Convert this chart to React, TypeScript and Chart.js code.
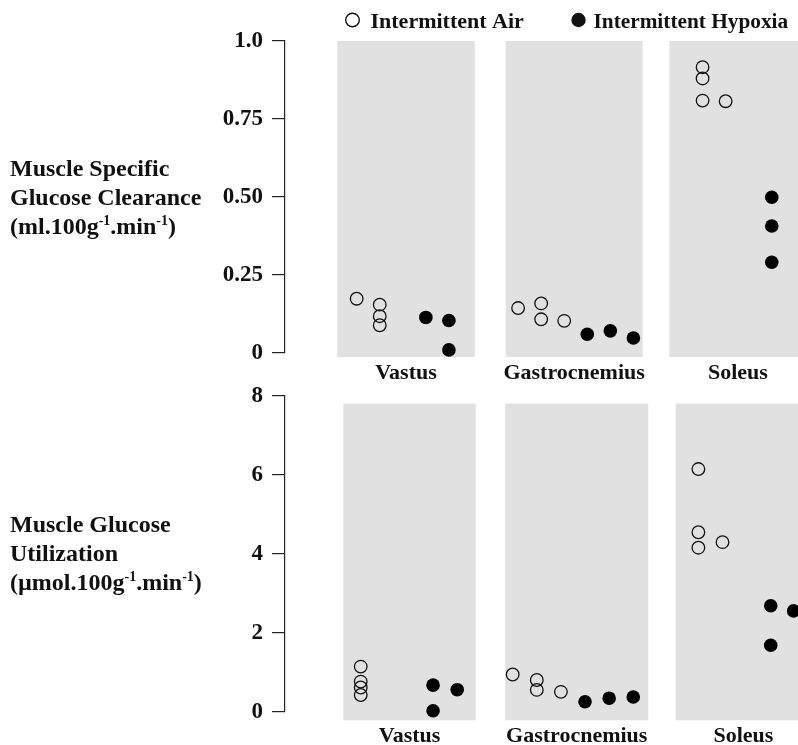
import React, { useEffect, useRef } from "react";
import { Chart, registerables } from "chart.js";
Chart.register(...registerables);

// ---------- data ----------
const groups = ["Vastus", "Gastrocnemius", "Soleus"];
const seriesNames = ["Intermittent Air", "Intermittent Hypoxia"];

// Muscle specific glucose clearance (ml.100g-1.min-1)
const clearanceTicks = [0, 0.25, 0.5, 0.75, 1.0];
const clearanceTickLabels = ["0", "0.25", "0.50", "0.75", "1.0"];
const clearanceAirSlots = [3, 4, 4, 4, 10, 11, 11, 12, 18, 18, 18, 19];
const clearanceAirValues = [0.174, 0.155, 0.118, 0.089, 0.144, 0.159, 0.108, 0.103, 0.916, 0.88, 0.809, 0.807];
const clearanceHypoxiaSlots = [6, 7, 7, 13, 14, 15, 21, 21, 21];
const clearanceHypoxiaValues = [0.114, 0.104, 0.01, 0.06, 0.071, 0.048, 0.499, 0.407, 0.291];

// Muscle glucose utilization (umol.100g-1.min-1)
const utilTicks = [0, 2, 4, 6, 8];
const utilTickLabels = ["0", "2", "4", "6", "8"];
const utilAirSlots = [3.7, 3.7, 3.7, 3.7, 10, 11, 11, 12, 17.7, 17.7, 17.7, 18.7];
const utilAirValues = [1.15, 0.77, 0.62, 0.43, 0.95, 0.81, 0.56, 0.51, 6.15, 4.55, 4.16, 4.3];
const utilHypoxiaSlots = [6.7, 7.7, 6.7, 13, 14, 15, 20.7, 21.65, 20.7];
const utilHypoxiaValues = [0.68, 0.565, 0.03, 0.26, 0.35, 0.38, 2.69, 2.56, 1.69];

const clearanceTitle: [string, boolean][][] = [
  [["Muscle Specific", false]],
  [["Glucose Clearance", false]],
  [["(ml.100g", false], ["-1", true], [".min", false], ["-1", true], [")", false]],
];
const utilTitle: [string, boolean][][] = [
  [["Muscle Glucose", false]],
  [["Utilization", false]],
  [["(\u00B5mol.100g", false], ["-1", true], [".min", false], ["-1", true], [")", false]],
];

// ---------- styling / layout ----------
const SERIF = "'Liberation Serif', 'Times New Roman', serif";
const INK = "#111";
const PANEL = "#e1e1e1";

type RowCfg = {
  top: number;
  height: number;
  padTop: number;
  padBottom: number;
  xMin: number;
  xMax: number;
  ticks: number[];
  tickLabels: string[];
  panels: [number, number][];
  panelTop: number;
  panelBottom: number;
  labelOffset: number;
  title: [string, boolean][][];
  titleBaselines: number[];
  legend: boolean;
  air: { x: number[]; y: number[] };
  hyp: { x: number[]; y: number[] };
};

const rows: RowCfg[] = [
  {
    top: 0,
    height: 380,
    padTop: 41,
    padBottom: 27,
    xMin: -0.108,
    xMax: 22.138,
    ticks: clearanceTicks,
    tickLabels: clearanceTickLabels,
    panels: [[2.16, 8.12], [9.46, 15.4], [16.56, 22.5]],
    panelTop: 1.0,
    panelBottom: -0.013,
    labelOffset: 16,
    title: clearanceTitle,
    titleBaselines: [176, 205, 234],
    legend: true,
    air: { x: clearanceAirSlots, y: clearanceAirValues },
    hyp: { x: clearanceHypoxiaSlots, y: clearanceHypoxiaValues },
  },
  {
    top: 372,
    height: 373,
    padTop: 24,
    padBottom: 33,
    xMin: 0.56,
    xMax: 21.83,
    ticks: utilTicks,
    tickLabels: utilTickLabels,
    panels: [[2.98, 8.47], [9.69, 15.62], [16.76, 22.37]],
    panelTop: 7.81,
    panelBottom: -0.21,
    labelOffset: 16.5,
    title: utilTitle,
    titleBaselines: [160, 189, 218],
    legend: false,
    air: { x: utilAirSlots, y: utilAirValues },
    hyp: { x: utilHypoxiaSlots, y: utilHypoxiaValues },
  },
];

function drawRich(ctx: CanvasRenderingContext2D, segs: [string, boolean][], x: number, y: number) {
  let cx = x;
  for (const [t, sup] of segs) {
    ctx.font = sup ? `bold 14px ${SERIF}` : `bold 24px ${SERIF}`;
    ctx.fillText(t, cx, sup ? y - 9 : y);
    cx += ctx.measureText(t).width;
  }
}

function makePlugin(cfg: RowCfg) {
  return {
    id: "panelsAndText",
    beforeDatasetsDraw(chart: any) {
      const ctx = chart.ctx as CanvasRenderingContext2D;
      const xs = chart.scales.x;
      const ys = chart.scales.y;
      ctx.save();
      ctx.fillStyle = PANEL;
      const top = ys.getPixelForValue(cfg.panelTop);
      const bot = ys.getPixelForValue(cfg.panelBottom);
      for (const [a, b] of cfg.panels) {
        const l = xs.getPixelForValue(a);
        const r = xs.getPixelForValue(b);
        ctx.fillRect(l, top, r - l, bot - top);
      }
      ctx.restore();
    },
    afterDraw(chart: any) {
      const ctx = chart.ctx as CanvasRenderingContext2D;
      const xs = chart.scales.x;
      const ys = chart.scales.y;
      ctx.save();
      ctx.fillStyle = INK;
      // category labels
      const bot = ys.getPixelForValue(cfg.panelBottom);
      ctx.font = `bold 22px ${SERIF}`;
      ctx.textAlign = "center";
      ctx.textBaseline = "middle";
      cfg.panels.forEach(([a, b], i) => {
        const c = (xs.getPixelForValue(a) + xs.getPixelForValue(b)) / 2;
        ctx.fillText(groups[i], c, bot + cfg.labelOffset);
      });
      // y titles
      ctx.textAlign = "left";
      ctx.textBaseline = "alphabetic";
      cfg.title.forEach((line, i) => drawRich(ctx, line, 10, cfg.titleBaselines[i]));
      // legend
      if (cfg.legend) {
        ctx.font = `bold 22px ${SERIF}`;
        ctx.strokeStyle = INK;
        ctx.lineWidth = 1.4;
        ctx.beginPath();
        ctx.arc(352.5, 20, 6.8, 0, Math.PI * 2);
        ctx.stroke();
        ctx.fillText(seriesNames[0], 370.5, 27.5);
        ctx.beginPath();
        ctx.arc(578.5, 20, 7.2, 0, Math.PI * 2);
        ctx.fill();
        ctx.font = `bold 21.3px ${SERIF}`;
        ctx.fillText(seriesNames[1], 593.5, 27.5);
      }
      ctx.restore();
    },
  };
}

function Row({ cfg }: { cfg: RowCfg }) {
  const ref = useRef<HTMLCanvasElement | null>(null);
  useEffect(() => {
    if (!ref.current) return;
    const ticks = cfg.ticks;
    const chart = new Chart(ref.current, {
      type: "scatter",
      data: {
        datasets: [
          {
            label: seriesNames[0],
            data: cfg.air.x.map((x, i) => ({ x, y: cfg.air.y[i] })),
            pointRadius: 6.3,
            pointBackgroundColor: "rgba(0,0,0,0)",
            pointBorderColor: INK,
            pointBorderWidth: 1.3,
            clip: false as any,
          },
          {
            label: seriesNames[1],
            data: cfg.hyp.x.map((x, i) => ({ x, y: cfg.hyp.y[i] })),
            pointRadius: 6.8,
            pointBackgroundColor: "#000",
            pointBorderColor: "#000",
            pointBorderWidth: 0,
            clip: false as any,
          },
        ],
      },
      options: {
        animation: false,
        responsive: false,
        devicePixelRatio: 1,
        layout: { autoPadding: false, padding: { top: cfg.padTop, bottom: cfg.padBottom, left: 0, right: 0 } },
        plugins: { legend: { display: false }, tooltip: { enabled: false } },
        scales: {
          x: { type: "linear", display: false, min: cfg.xMin, max: cfg.xMax },
          y: {
            type: "linear",
            min: ticks[0],
            max: ticks[ticks.length - 1],
            afterBuildTicks: (scale: any) => {
              scale.ticks = ticks.map((v) => ({ value: v }));
            },
            afterFit: (scale: any) => {
              scale.width = 285;
            },
            grid: {
              display: true,
              drawOnChartArea: false,
              drawTicks: true,
              tickLength: 13,
              color: "#222",
              lineWidth: 1.2,
            },
            border: { display: true, color: "#222", width: 1.2 },
            ticks: {
              padding: 9,
              color: INK,
              font: { family: SERIF, size: 23, weight: "bold" },
              callback: (v: any) => {
                const i = ticks.indexOf(Number(v));
                return i >= 0 ? cfg.tickLabels[i] : "";
              },
            },
          },
        },
      },
      plugins: [makePlugin(cfg)],
    } as any);
    return () => chart.destroy();
  }, [cfg]);
  return (
    <canvas
      ref={ref}
      width={798}
      height={cfg.height}
      style={{ position: "absolute", left: 0, top: cfg.top, display: "block", width: 798, height: cfg.height }}
    />
  );
}

export default function App() {
  return (
    <div style={{ position: "absolute", left: 0, top: 0, width: 798, height: 745, background: "#fff", overflow: "hidden" }}>
      {rows.map((r, i) => (
        <Row key={i} cfg={r} />
      ))}
    </div>
  );
}
